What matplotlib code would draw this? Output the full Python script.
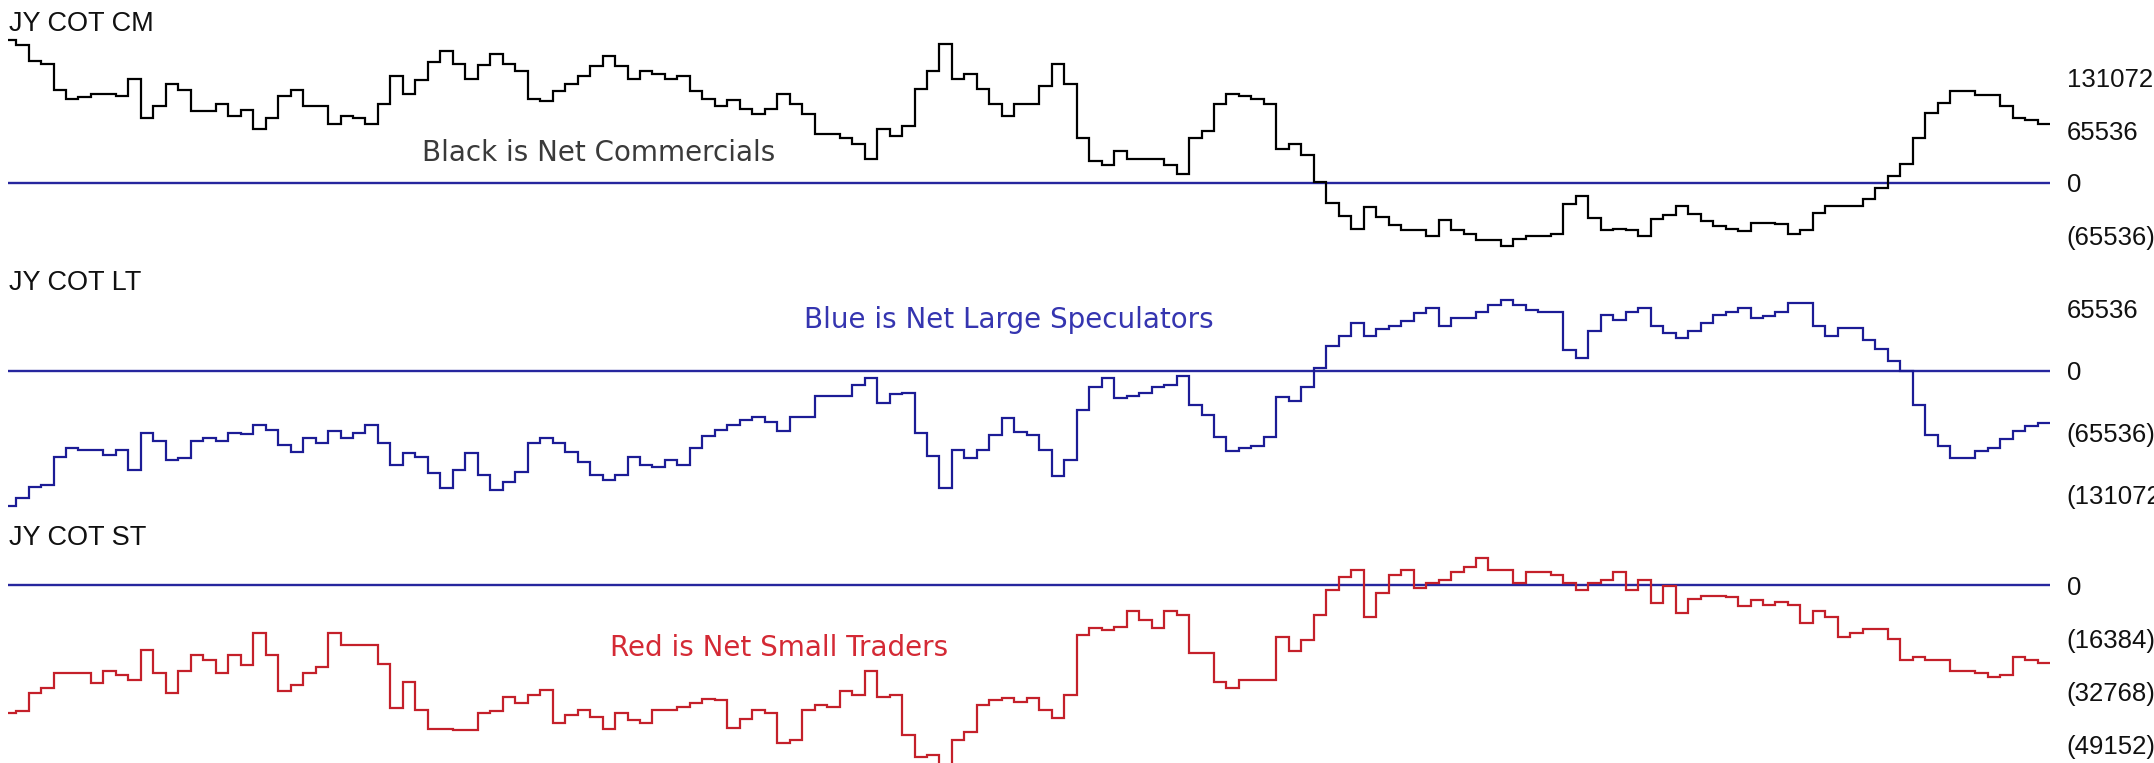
import numpy as np
import matplotlib
matplotlib.use('Agg')
import matplotlib.pyplot as plt

# ---------------- data (thousands of contracts, weekly) ----------------
cm = [178.0, 171.8, 152.3, 148.9, 115.6, 105.2, 107.3, 111.5, 111.5, 108.6,
      130.2, 81.5, 95.7, 124.0, 115.6, 89.9, 89.9, 99.0, 83.6, 90.7,
      67.8, 81.5, 108.6, 115.6, 96.1, 96.1, 74.0, 83.6, 81.5, 74.0,
      99.0, 133.5, 111.5, 128.1, 151.0, 164.7, 148.9, 130.2, 146.8, 161.4,
      148.9, 139.8, 105.2, 102.3, 114.8, 124.0, 133.5, 146.0, 158.5, 146.0,
      129.4, 139.8, 136.4, 129.4, 133.5, 114.8, 105.0, 95.7, 103.2, 92.8,
      86.5, 92.8, 111.5, 99.0, 86.5, 61.6, 61.6, 56.6, 49.1, 30.4,
      67.8, 58.7, 71.1, 117.7, 139.8, 173.9, 129.4, 136.4, 117.7, 99.0,
      83.2, 99.0, 99.0, 120.6, 148.9, 124.0, 56.6, 27.5, 22.0, 39.9,
      30.4, 30.4, 30.4, 22.0, 11.6, 56.6, 64.9, 99.0, 111.5, 108.6,
      105.2, 99.0, 42.8, 49.1, 34.5, 1.2, -24.5, -41.6, -57.0, -30.0,
      -42.4, -52.8, -59.1, -59.1, -66.1, -46.6, -59.1, -63.2, -71.6, -71.6,
      -79.0, -69.5, -66.1, -66.1, -63.2, -25.8, -16.2, -43.3, -59.1, -57.0,
      -59.1, -66.1, -44.5, -40.4, -29.1, -38.3, -47.4, -54.1, -57.0, -59.9,
      -49.9, -49.9, -51.6, -63.2, -59.1, -37.4, -28.7, -28.7, -28.7, -19.5,
      -6.0, 8.7, 23.9, 55.8, 87.0, 99.4, 114.8, 114.8, 109.2, 109.2,
      96.0, 80.7, 78.0, 74.0]

lt = [-142.9, -134.8, -123.2, -120.7, -91.5, -82.0, -83.8, -83.8, -89.1, -83.8,
      -104.9, -65.5, -73.9, -94.3, -92.6, -73.9, -71.5, -73.9, -65.5, -67.2,
      -57.4, -62.7, -78.5, -86.2, -71.5, -76.0, -63.4, -70.8, -65.5, -57.4,
      -76.0, -99.6, -86.6, -91.5, -107.7, -123.6, -104.9, -86.6, -110.5, -126.0,
      -117.2, -107.4, -76.0, -70.8, -76.0, -86.2, -96.8, -110.2, -115.5, -110.2,
      -91.5, -99.6, -102.1, -94.3, -99.6, -82.0, -69.0, -62.7, -57.4, -52.1,
      -49.3, -54.6, -63.4, -49.3, -49.3, -26.4, -26.4, -26.4, -15.1, -7.4,
      -34.5, -24.6, -23.2, -65.5, -89.8, -123.6, -83.8, -92.6, -83.8, -67.9,
      -49.6, -65.1, -67.9, -83.8, -111.2, -94.3, -41.5, -16.9, -7.4, -29.2,
      -26.4, -23.9, -17.6, -15.1, -5.3, -36.3, -46.8, -70.4, -84.5, -82.0,
      -79.6, -70.4, -28.2, -31.7, -17.6, 2.5, 26.4, 36.6, 50.7, 36.6,
      44.0, 47.2, 52.8, 61.2, 65.8, 47.2, 56.0, 56.0, 61.6, 69.3,
      74.6, 69.3, 64.1, 61.6, 61.6, 21.8, 13.0, 42.2, 58.8, 53.5,
      61.6, 65.8, 47.2, 39.4, 34.1, 42.2, 50.7, 58.8, 61.6, 65.8,
      55.3, 58.1, 61.6, 71.8, 71.8, 47.2, 36.6, 45.4, 45.4, 32.4,
      22.5, 10.2, 0.0, -36.3, -67.9, -79.2, -92.6, -92.6, -84.5, -82.0,
      -72.2, -63.4, -58.4, -54.9]

st = [-39.2, -38.6, -33.1, -31.6, -26.9, -26.9, -26.9, -30.0, -26.3, -27.7,
      -29.2, -20.0, -26.9, -33.1, -26.3, -21.5, -22.9, -26.9, -21.5, -24.6,
      -14.7, -21.5, -32.5, -30.8, -26.9, -25.1, -14.7, -18.5, -18.5, -18.5,
      -24.4, -37.9, -29.9, -38.4, -44.1, -44.1, -44.6, -44.6, -39.2, -38.6,
      -34.5, -36.2, -33.8, -32.3, -42.3, -40.0, -38.4, -40.7, -44.1, -39.2,
      -41.5, -42.3, -38.4, -38.4, -37.4, -36.4, -34.9, -35.4, -43.9, -41.3,
      -38.4, -39.2, -48.4, -47.5, -38.4, -36.9, -37.4, -32.5, -33.8, -26.3,
      -34.3, -33.8, -46.1, -52.8, -52.3, -55.9, -47.5, -45.3, -36.9, -35.2,
      -34.6, -36.1, -34.6, -38.4, -40.8, -33.8, -15.4, -13.1, -13.8, -12.8,
      -8.0, -10.8, -13.1, -8.0, -9.2, -20.8, -20.8, -29.9, -31.5, -29.2,
      -29.2, -29.2, -16.1, -20.2, -16.9, -9.2, -1.5, 2.4, 4.6, -9.9,
      -2.4, 3.1, 4.6, -0.8, 0.5, 1.5, 3.9, 5.4, 8.4, 4.6,
      4.6, 0.5, 3.9, 3.9, 3.1, 0.5, -1.5, 0.7, 1.5, 3.9,
      -1.5, 1.5, -5.6, -0.3, -8.7, -4.4, -3.3, -3.3, -3.8, -6.5,
      -4.6, -6.2, -5.3, -6.2, -11.8, -7.9, -9.9, -16.1, -14.7, -13.6,
      -13.6, -16.7, -23.1, -22.2, -23.1, -23.1, -26.3, -26.3, -26.9, -28.4,
      -27.7, -22.2, -23.1, -23.9]

titles = ['JY COT CM', 'JY COT LT', 'JY COT ST']
notes = ['Black is Net Commercials', 'Blue is Net Large Speculators',
         'Red is Net Small Traders']
cm_ticks = [131.072, 65.536, 0.0, -65.536]
cm_tick_labels = ['131072', '65536', '0', '(65536)']
lt_ticks = [65.536, 0.0, -65.536, -131.072]
lt_tick_labels = ['65536', '0', '(65536)', '(131072)']
st_ticks = [0.0, -16.384, -32.768, -49.152]
st_tick_labels = ['0', '(16384)', '(32768)', '(49152)']

# ---------------- layout ----------------
W, H = 2154, 763
fig = plt.figure(figsize=(W / 100, H / 100), dpi=100)
fig.patch.set_facecolor('white')

TICK_FONT = ['Liberation Sans', 'DejaVu Sans']
TITLE_FONT = ['Liberation Sans', 'DejaVu Sans']
NOTE_FONT = ['DejaVu Sans']

x_left_px, x_right_px = 8, 2050
xlim = (0.35, 164.0)

panels = [
    dict(vals=cm, color='#000000', top=25, bottom=255, ylim=(-89.9, 197.2),
         ticks=cm_ticks, labels=cm_tick_labels, title=titles[0], title_y=24,
         note=notes[0], note_color='#3a3a3a', note_x=422, note_y=161),
    dict(vals=lt, color='#1c1c96', top=265, bottom=515, ylim=(-152.4, 111.6),
         ticks=lt_ticks, labels=lt_tick_labels, title=titles[1], title_y=283,
         note=notes[1], note_color='#3535b0', note_x=804, note_y=328),
    dict(vals=st, color='#c4202a', top=520, bottom=763, ylim=(-54.7, 20.0),
         ticks=st_ticks, labels=st_tick_labels, title=titles[2], title_y=538,
         note=notes[2], note_color='#d42a35', note_x=610, note_y=656),
]

for p in panels:
    ax = fig.add_axes([x_left_px / W, 1 - p['bottom'] / H,
                       (x_right_px - x_left_px) / W, (p['bottom'] - p['top']) / H])
    ax.set_facecolor('none')
    v = np.asarray(p['vals'])
    ax.axhline(0, color='#26269e', lw=1.7, zorder=1)
    ax.stairs(v, edges=np.arange(len(v) + 1), baseline=None,
              color=p['color'], lw=1.6, zorder=2)
    ax.set_xlim(*xlim)
    ax.set_ylim(*p['ylim'])
    for s in ax.spines.values():
        s.set_visible(False)
    ax.set_xticks([])
    ax.yaxis.tick_right()
    ax.set_yticks(p['ticks'])
    ax.set_yticklabels(p['labels'], fontfamily=TICK_FONT)
    ax.tick_params(axis='y', length=0, pad=12.0, labelsize=18.5, colors='#111111')
    fig.text(9 / W, 1 - p['title_y'] / H, p['title'], ha='left', va='center',
             fontsize=19.5, family=TITLE_FONT, color='#111111')
    fig.text(p['note_x'] / W, 1 - p['note_y'] / H, p['note'], ha='left',
             va='baseline', fontsize=20, family=NOTE_FONT, color=p['note_color'])

fig.savefig('out.png', dpi=100, facecolor='white')
